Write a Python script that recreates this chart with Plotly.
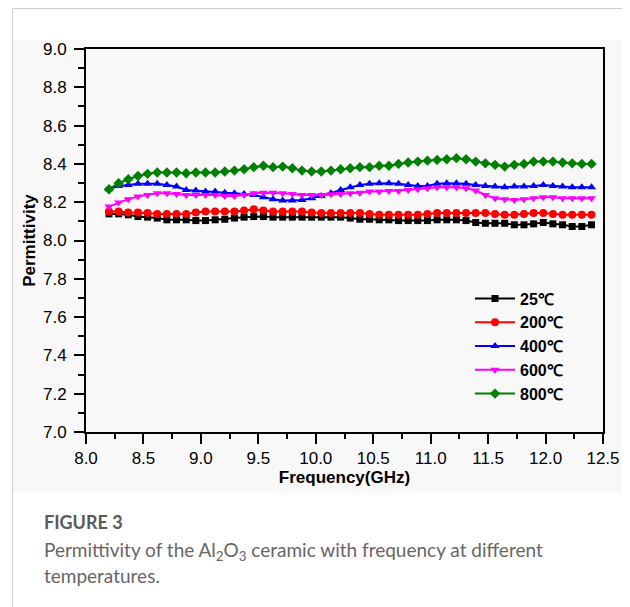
import plotly.graph_objects as go

freq = [8.200, 8.284, 8.368, 8.452, 8.536, 8.620, 8.704, 8.788, 8.872, 8.956,
        9.040, 9.124, 9.208, 9.292, 9.376, 9.460, 9.544, 9.628, 9.712, 9.796,
        9.880, 9.964, 10.048, 10.132, 10.216, 10.300, 10.384, 10.468, 10.552, 10.636,
        10.720, 10.804, 10.888, 10.972, 11.056, 11.140, 11.224, 11.308, 11.392, 11.476,
        11.560, 11.644, 11.728, 11.812, 11.896, 11.980, 12.064, 12.148, 12.232, 12.316, 12.400]

t25 = [8.139, 8.139, 8.134, 8.125, 8.122, 8.117, 8.108, 8.108, 8.108, 8.104,
       8.104, 8.108, 8.111, 8.117, 8.122, 8.125, 8.125, 8.122, 8.122, 8.122,
       8.122, 8.122, 8.122, 8.122, 8.122, 8.117, 8.111, 8.111, 8.108, 8.108,
       8.104, 8.104, 8.104, 8.104, 8.108, 8.108, 8.108, 8.104, 8.094, 8.090,
       8.090, 8.090, 8.082, 8.082, 8.087, 8.094, 8.087, 8.082, 8.073, 8.073, 8.082]

t200 = [8.151, 8.151, 8.146, 8.146, 8.143, 8.139, 8.139, 8.139, 8.139, 8.146,
        8.151, 8.151, 8.151, 8.151, 8.157, 8.163, 8.157, 8.151, 8.151, 8.151,
        8.151, 8.146, 8.143, 8.143, 8.143, 8.143, 8.143, 8.139, 8.134, 8.134,
        8.134, 8.134, 8.134, 8.139, 8.143, 8.143, 8.143, 8.143, 8.143, 8.143,
        8.139, 8.134, 8.134, 8.139, 8.143, 8.143, 8.139, 8.134, 8.134, 8.134, 8.134]

t400 = [8.268, 8.285, 8.290, 8.296, 8.296, 8.296, 8.290, 8.282, 8.264, 8.261,
        8.256, 8.256, 8.250, 8.247, 8.243, 8.238, 8.226, 8.216, 8.209, 8.209,
        8.212, 8.221, 8.233, 8.247, 8.264, 8.278, 8.290, 8.296, 8.299, 8.299,
        8.296, 8.290, 8.285, 8.285, 8.296, 8.299, 8.299, 8.296, 8.290, 8.285,
        8.282, 8.278, 8.282, 8.282, 8.285, 8.290, 8.285, 8.282, 8.278, 8.278, 8.278]

t600 = [8.177, 8.198, 8.216, 8.230, 8.238, 8.247, 8.247, 8.243, 8.238, 8.238,
        8.238, 8.238, 8.233, 8.233, 8.238, 8.247, 8.250, 8.250, 8.247, 8.243,
        8.238, 8.238, 8.238, 8.242, 8.243, 8.247, 8.250, 8.256, 8.256, 8.259,
        8.259, 8.264, 8.268, 8.273, 8.278, 8.278, 8.278, 8.273, 8.261, 8.238,
        8.221, 8.216, 8.212, 8.216, 8.221, 8.226, 8.226, 8.221, 8.221, 8.221, 8.221]

t800 = [8.268, 8.299, 8.320, 8.337, 8.348, 8.355, 8.355, 8.355, 8.351, 8.355,
        8.355, 8.355, 8.360, 8.365, 8.372, 8.383, 8.390, 8.383, 8.386, 8.377,
        8.365, 8.360, 8.360, 8.365, 8.372, 8.377, 8.383, 8.383, 8.390, 8.390,
        8.400, 8.407, 8.412, 8.417, 8.421, 8.424, 8.430, 8.424, 8.412, 8.403,
        8.395, 8.386, 8.395, 8.400, 8.412, 8.412, 8.412, 8.407, 8.403, 8.400, 8.400]

series_names = ["25℃", "200℃", "400℃", "600℃", "800℃"]
series_vals = [t25, t200, t400, t600, t800]
colors = ["#000000", "#ff0000", "#0000ff", "#ff00ff", "#008000"]
symbols = ["square", "circle", "triangle-up", "triangle-down", "diamond"]
sizes = [7, 8, 8, 8, 8]

x_ticks = [8.0, 8.5, 9.0, 9.5, 10.0, 10.5, 11.0, 11.5, 12.0, 12.5]
y_ticks = [7.0, 7.2, 7.4, 7.6, 7.8, 8.0, 8.2, 8.4, 8.6, 8.8, 9.0]

# plot area in figure pixels (page body adds an 8px offset)
L, T, R, B = 78, 41, 595, 424
W, H = 630, 607
PW, PH = R - L, B - T


def px(x):
    return (x - L) / PW


def py(y):
    return 1 - (y - T) / PH


fig = go.Figure()
for name, vals, c, s, sz in zip(series_names, series_vals, colors, symbols, sizes):
    fig.add_trace(go.Scatter(
        x=freq, y=vals, name=name, mode="lines+markers",
        line=dict(color=c, width=2),
        marker=dict(symbol=s, size=sz, color=c, line=dict(width=0)),
    ))

FONT = "Liberation Sans"
axis_font = dict(family=FONT, size=17, color="#000")
title_font = dict(family=FONT, size=17, color="#000", weight="bold")

fig.update_xaxes(
    range=[8.0, 12.5], tickvals=x_ticks, ticktext=[f"{v:.1f}" for v in x_ticks],
    showline=True, linecolor="#000", linewidth=2, mirror=True,
    ticks="outside", ticklen=10, tickwidth=2, tickcolor="#000",
    minor=dict(ticks="outside", ticklen=5, tickwidth=2, tickcolor="#000", dtick=0.25, tick0=8.0),
    showgrid=False, zeroline=False, tickfont=axis_font, ticklabelstandoff=0,
    title=dict(text="Frequency(GHz)", font=title_font, standoff=3),
)
fig.update_yaxes(
    range=[7.0, 9.0], tickvals=y_ticks, ticktext=[f"{v:.1f}" for v in y_ticks],
    showline=True, linecolor="#000", linewidth=2, mirror=True,
    ticks="outside", ticklen=10, tickwidth=2, tickcolor="#000",
    minor=dict(ticks="outside", ticklen=6, tickwidth=2, tickcolor="#000", dtick=0.1, tick0=7.0),
    showgrid=False, zeroline=False, tickfont=axis_font, ticklabelstandoff=4,
    title=dict(text="Permittivity", font=title_font, standoff=3),
)

cap_font = dict(family="Lato", size=19, color="#666666")

fig.update_layout(
    width=W, height=H,
    margin=dict(l=L, r=W - R, t=T, b=H - B),
    paper_bgcolor="#ffffff", plot_bgcolor="#ffffff",
    showlegend=True,
    legend=dict(
        x=px(462), y=py(273.5), xanchor="left", yanchor="top",
        bgcolor="rgba(0,0,0,0)", borderwidth=0,
        font=dict(family=FONT, size=16, color="#000", weight="bold"),
        itemwidth=40, tracegroupgap=0,
    ),
    shapes=[
        dict(type="rect", xref="paper", yref="paper", layer="below",
             x0=px(5), x1=px(614), y0=py(484), y1=py(32),
             fillcolor="#f8f8f8", line=dict(width=0)),
        dict(type="rect", xref="paper", yref="paper", layer="below",
             x0=px(4.5), x1=px(616.5), y0=py(640), y1=py(0.5),
             fillcolor="rgba(0,0,0,0)", line=dict(color="#cfcfcf", width=1)),
    ],
    annotations=[
        dict(text="FIGURE 3", xref="paper", yref="paper", x=px(34), y=py(514),
             xanchor="left", yanchor="middle", showarrow=False,
             font=dict(family="Lato", size=18, color="#5a5a5a", weight="bold")),
        dict(text="Permittivity of the Al<sub>2</sub>O<sub>3</sub> ceramic with frequency at different",
             xref="paper", yref="paper", x=px(34), y=py(543),
             xanchor="left", yanchor="middle", showarrow=False, font=cap_font),
        dict(text="temperatures.", xref="paper", yref="paper", x=px(34), y=py(567),
             xanchor="left", yanchor="middle", showarrow=False, font=cap_font),
    ],
)

fig.write_html("out.html")
